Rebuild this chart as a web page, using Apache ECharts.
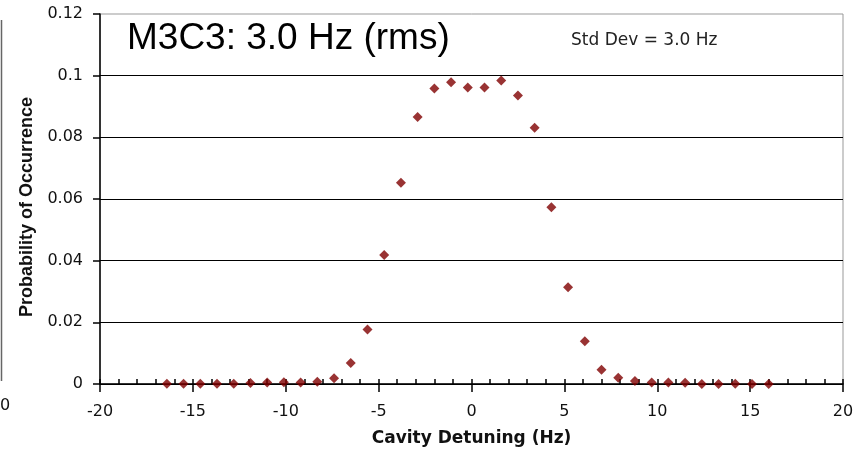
<!DOCTYPE html>
<html>
<head>
<meta charset="utf-8">
<title>M3C3 detuning</title>
<script src="https://cdn.jsdelivr.net/npm/echarts@6/dist/echarts.min.js"></script>
<style>
  html, body { margin: 0; padding: 0; background: #fff; }
</style>
</head>
<body>
<div id="chart" style="width: 859px; height: 450px;"></div>
<script>
// values
var detuning = [-16.4, -15.5, -14.6, -13.7, -12.8, -11.9, -11.0, -10.1, -9.2, -8.3, -7.4, -6.5,
  -5.6, -4.7, -3.8, -2.9, -2.0, -1.1, -0.2, 0.7, 1.6, 2.5, 3.4, 4.3, 5.2, 6.1, 7.0,
  7.9, 8.8, 9.7, 10.6, 11.5, 12.4, 13.3, 14.2, 15.1, 16.0]
var probability = [0.0001, 0.0001, 0.0001, 0.0001, 0.0001, 0.0003, 0.0005, 0.0006, 0.0005, 0.0007, 0.0019, 0.0068,
  0.0177, 0.0418, 0.0653, 0.0866, 0.0958, 0.0979, 0.0962, 0.0962, 0.0984, 0.0936, 0.0831,
  0.0573, 0.0314, 0.0139, 0.0046, 0.0020, 0.0010, 0.0005, 0.0005, 0.0004, 0, 0, 0.0001, 0, 0]
var xTicks = ['-20', '-15', '-10', '-5', '0', '5', '10', '15', '20']
var yTicks = ['0', '0.02', '0.04', '0.06', '0.08', '0.1', '0.12']

var points = detuning.map(function (d, i) {
  return [d, probability[i]]
})

var chart = echarts.init(document.getElementById('chart'))
chart.setOption({
  animation: false,
  backgroundColor: '#fff',
  title: [{
    text: 'M3C3: 3.0 Hz (rms)',
    left: 127,
    top: 20,
    padding: 0,
    textStyle: {
      fontFamily: 'Liberation Sans',
      fontSize: 37,
      fontWeight: 'normal',
      color: '#000'
    }
  }, {
    text: 'Std Dev = 3.0 Hz',
    left: 571,
    top: 32,
    padding: 0,
    textStyle: {
      fontFamily: 'DejaVu Sans',
      fontSize: 17,
      fontWeight: 'normal',
      color: '#222'
    }
  }],
  grid: {
    left: 100,
    right: 16,
    top: 14,
    bottom: 66,
    outerBoundsMode: 'none',
    show: true,
    borderColor: '#999',
    borderWidth: 1
  },
  xAxis: [{
    type: 'value',
    min: -20,
    max: 20,
    interval: 5,
    name: 'Cavity Detuning (Hz)',
    nameLocation: 'middle',
    nameGap: 46,
    nameTextStyle: {
      fontFamily: 'DejaVu Sans',
      fontSize: 17,
      fontWeight: 'bold',
      color: '#111'
    },
    axisLine: { onZero: false, lineStyle: { color: '#000', width: 1.5 } },
    axisTick: { show: true, inside: false, length: 8, lineStyle: { color: '#000', width: 1.5 } },
    axisLabel: {
      margin: 20,
      fontFamily: 'DejaVu Sans',
      fontSize: 16,
      color: '#111',
      formatter: function (v) {
        return xTicks[Math.round((v + 20) / 5)]
      }
    },
    splitLine: { show: false }
  }, {
    // small inner ticks every 1 Hz
    type: 'value',
    position: 'bottom',
    min: -20,
    max: 20,
    interval: 1,
    axisLine: { show: false, onZero: false },
    axisTick: { show: true, inside: true, length: 5, lineStyle: { color: '#000', width: 1.5 } },
    axisLabel: { show: false },
    splitLine: { show: false }
  }],
  yAxis: {
    type: 'value',
    min: 0,
    max: 0.12,
    interval: 0.02,
    name: 'Probability of Occurrence',
    nameLocation: 'middle',
    nameGap: 64,
    nameTextStyle: {
      fontFamily: 'Liberation Sans',
      fontSize: 18,
      fontWeight: 'bold',
      color: '#111',
      padding: [0, 16, 0, 0]
    },
    axisLine: { show: true, onZero: false, lineStyle: { color: '#000', width: 1.5 } },
    axisTick: { show: true, inside: false, length: 7, lineStyle: { color: '#000', width: 1.5 } },
    axisLabel: {
      margin: 17,
      fontFamily: 'DejaVu Sans',
      fontSize: 16,
      color: '#111',
      formatter: function (v) {
        return yTicks[Math.round(v / 0.02)]
      }
    },
    splitLine: {
      show: true,
      showMaxLine: false,
      lineStyle: { color: '#000', width: 1.2 }
    }
  },
  // bits of the neighbouring chart cut off at the left edge
  graphic: [{
    type: 'line',
    shape: { x1: 1.5, y1: 20, x2: 1.5, y2: 381 },
    style: { stroke: '#666', lineWidth: 1.5 }
  }, {
    type: 'text',
    left: 0,
    top: 398,
    style: { text: '0', font: '16px "DejaVu Sans"', fill: '#111' }
  }],
  series: [{
    name: 'Probability',
    type: 'scatter',
    xAxisIndex: 0,
    symbol: 'diamond',
    symbolSize: 10,
    itemStyle: { color: '#800000' },
    data: points
  }]
})
</script>
</body>
</html>
